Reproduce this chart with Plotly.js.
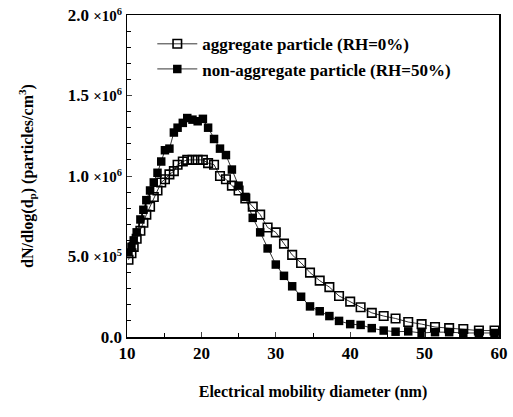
<!DOCTYPE html>
<html>
<head>
<meta charset="utf-8">
<script src="https://cdn.plot.ly/plotly-3.0.1.min.js"></script>
<style>html,body{margin:0;padding:0;background:#fff;}#chart{width:513px;height:417px;}</style>
</head>
<body>
<div id="chart"></div>
<script>
// Electrical mobility diameter bins (nm)
const diameter = [10.2, 10.6, 10.9, 11.3, 11.8, 12.2, 12.6, 13.1, 13.6, 14.1, 14.6, 15.1, 15.7, 16.3, 16.8,
  17.5, 18.1, 18.8, 19.5, 20.2, 20.9, 21.7, 22.5, 23.3, 24.1, 25.0, 25.9, 26.9, 27.9, 28.9, 30.0, 31.1,
  32.2, 33.4, 34.6, 35.9, 37.2, 38.5, 40.0, 41.4, 42.9, 44.5, 46.1, 47.8, 49.6, 51.4, 53.3, 55.2, 57.3, 59.4];

// aggregate particle (RH=0%), open squares, in units of 1e6 particles/cm3
const aggregate = [0.48, 0.52, 0.56, 0.61, 0.66, 0.71, 0.76, 0.81, 0.87, 0.91, 0.96, 0.98, 1.01, 1.03, 1.07,
  1.09, 1.10, 1.10, 1.10, 1.10, 1.08, 1.07, 1.00, 0.98, 0.94, 0.91, 0.86, 0.81, 0.76, 0.68, 0.65, 0.58,
  0.51, 0.46, 0.40, 0.35, 0.31, 0.255, 0.22, 0.185, 0.15, 0.13, 0.115, 0.093, 0.08, 0.062, 0.055, 0.05, 0.04, 0.04];

// non-aggregate particle (RH=50%), filled squares, in units of 1e6 particles/cm3
const nonAggregate = [0.52, 0.56, 0.60, 0.65, 0.73, 0.79, 0.85, 0.91, 0.96, 1.02, 1.09, 1.16, 1.17, 1.27, 1.30,
  1.33, 1.36, 1.35, 1.34, 1.355, 1.30, 1.23, 1.17, 1.13, 1.04, 0.94, 0.87, 0.74, 0.65, 0.55, 0.45, 0.38,
  0.315, 0.25, 0.19, 0.16, 0.13, 0.10, 0.08, 0.075, 0.055, 0.04, 0.033, 0.035, 0.025, 0.03, 0.03, 0.025, 0.025, 0.025];

const scale = 1e6;
const yTickVals = [0, 5e5, 1e6, 1.5e6, 2e6];
const yTickText = ['0.0',
  '5.0 <span style="font-size:15px">×10<sup>5</sup></span>',
  '1.0 <span style="font-size:15px">×10<sup>6</sup></span>',
  '1.5 <span style="font-size:15px">×10<sup>6</sup></span>',
  '2.0 <span style="font-size:15px">×10<sup>6</sup></span>'];
const xTickVals = [10, 20, 30, 40, 50, 60];

const font = {family: '"Liberation Serif", "Times New Roman", serif', size: 16, color: '#000', weight: 'bold'};

const traces = [
  {
    x: diameter, y: aggregate.map(v => v * scale),
    name: 'aggregate particle (RH=0%)',
    mode: 'lines+markers', type: 'scatter',
    line: {color: '#000', width: 0.8},
    marker: {symbol: 'square-open', size: 8.5, color: '#000', line: {width: 1.6, color: '#000'}}
  },
  {
    x: diameter, y: nonAggregate.map(v => v * scale),
    name: 'non-aggregate particle (RH=50%)',
    mode: 'lines+markers', type: 'scatter',
    line: {color: '#000', width: 0.8},
    marker: {symbol: 'square', size: 8.5, color: '#000'}
  }
];

const layout = {
  width: 513, height: 417,
  margin: {l: 127, r: 14, t: 15, b: 80},
  paper_bgcolor: '#fff', plot_bgcolor: '#fff',
  font: font,
  showlegend: true,
  legend: {x: 0.068, y: 0.965, xanchor: 'left', yanchor: 'top', bgcolor: 'rgba(0,0,0,0)',
    font: {family: font.family, size: 17, color: '#000', weight: 'bold'}, tracegroupgap: 0, itemwidth: 40},
  xaxis: {
    range: [10, 60], tickvals: xTickVals, ticks: 'inside', ticklen: 5, tickwidth: 1,
    showline: true, linecolor: '#000', linewidth: 1.5, mirror: true, showgrid: false, zeroline: false,
    minor: {dtick: 5, tick0: 10, ticks: 'inside', ticklen: 4, tickcolor: '#000'},
    tickfont: {family: font.family, size: 17, color: '#000', weight: 'bold'},
    title: {text: 'Electrical mobility diameter (nm)', standoff: 24,
      font: {family: font.family, size: 16, color: '#000', weight: 'bold'}}
  },
  yaxis: {
    range: [0, 2e6], tickvals: yTickVals, ticktext: yTickText, ticks: 'inside', ticklen: 5, tickwidth: 1,
    showline: true, linecolor: '#000', linewidth: 1.5, mirror: true, showgrid: false, zeroline: false,
    minor: {dtick: 1e5, tick0: 0, ticks: 'inside', ticklen: 4, tickcolor: '#000'},
    tickfont: {family: font.family, size: 17, color: '#000', weight: 'bold'},
    title: {text: 'dN/dlog(d<sub>p</sub>) (particles/cm<sup>3</sup>)', standoff: 30,
      font: {family: font.family, size: 16, color: '#000', weight: 'bold'}}
  }
};

Plotly.newPlot('chart', traces, layout, {displayModeBar: false, staticPlot: true});
</script>
</body>
</html>
